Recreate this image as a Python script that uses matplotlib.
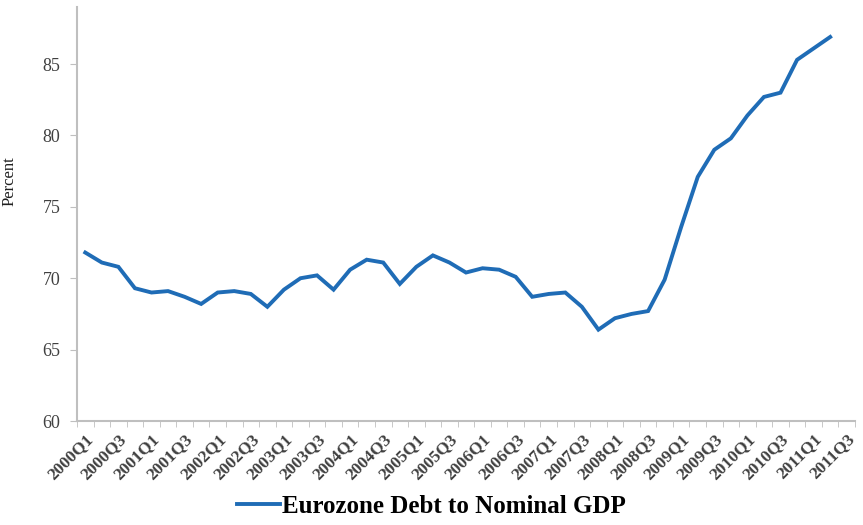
import numpy as np
import matplotlib.pyplot as plt

# quarters 2000Q1 .. 2011Q3 (last category has no value in the source chart)
quarters = [f"{y}Q{q}" for y in range(2000, 2012) for q in range(1, 5)][:47]
debt_gdp = [71.8, 71.1, 70.8, 69.3, 69.0, 69.1, 68.7, 68.2, 69.0, 69.1,
            68.9, 68.0, 69.2, 70.0, 70.2, 69.2, 70.6, 71.3, 71.1, 69.6,
            70.8, 71.6, 71.1, 70.4, 70.7, 70.6, 70.1, 68.7, 68.9, 69.0,
            68.0, 66.4, 67.2, 67.5, 67.7, 69.9, 73.6, 77.1, 79.0, 79.8,
            81.4, 82.7, 83.0, 85.3, 86.1, 86.9, np.nan]
label_every = 2

serif = ["Liberation Serif", "DejaVu Serif"]
plt.rcParams["font.family"] = serif
axis_grey = "#bfbfbf"
text_grey = "#404040"

fig = plt.figure(figsize=(8.63, 5.25), dpi=100)
ax = fig.add_axes([77 / 863, 104 / 525, 778 / 863, 414 / 525])

x = np.arange(len(quarters))
ax.plot(x, debt_gdp, color="#1f6cb6", lw=2.8, solid_joinstyle="miter",
        label="Eurozone Debt to Nominal GDP")

ax.set_xlim(-0.5, len(quarters) - 0.5)
ax.set_ylim(60, 89)
ax.set_yticks([60, 65, 70, 75, 80, 85])
ax.tick_params(axis="y", length=5, color=axis_grey, labelsize=13,
               labelcolor=text_grey, pad=7)

ax.set_xticks(x[::label_every])
ax.set_xticklabels(quarters[::label_every], rotation=45, ha="right",
                   rotation_mode="anchor", fontsize=12.5, fontweight="bold",
                   color=text_grey)
ax.tick_params(axis="x", which="major", length=0, pad=7)
ax.set_xticks(np.arange(len(quarters) + 1) - 0.5, minor=True)
ax.tick_params(axis="x", which="minor", length=4, color=axis_grey)

for side in ["top", "right"]:
    ax.spines[side].set_visible(False)
for side in ["left", "bottom"]:
    ax.spines[side].set_color(axis_grey)
    ax.spines[side].set_linewidth(1.5)

ax.set_ylabel("Percent", fontsize=12, color="#202020")
ax.yaxis.set_label_coords(-0.076, 0.58)

handles, labels = ax.get_legend_handles_labels()
fig.legend(handles, labels, loc="center", bbox_to_anchor=(0.5, 0.036),
           frameon=False, handlelength=1.7, handletextpad=0.1,
           prop={"family": serif, "weight": "bold", "size": 18})

plt.savefig("out.png", dpi=100)
